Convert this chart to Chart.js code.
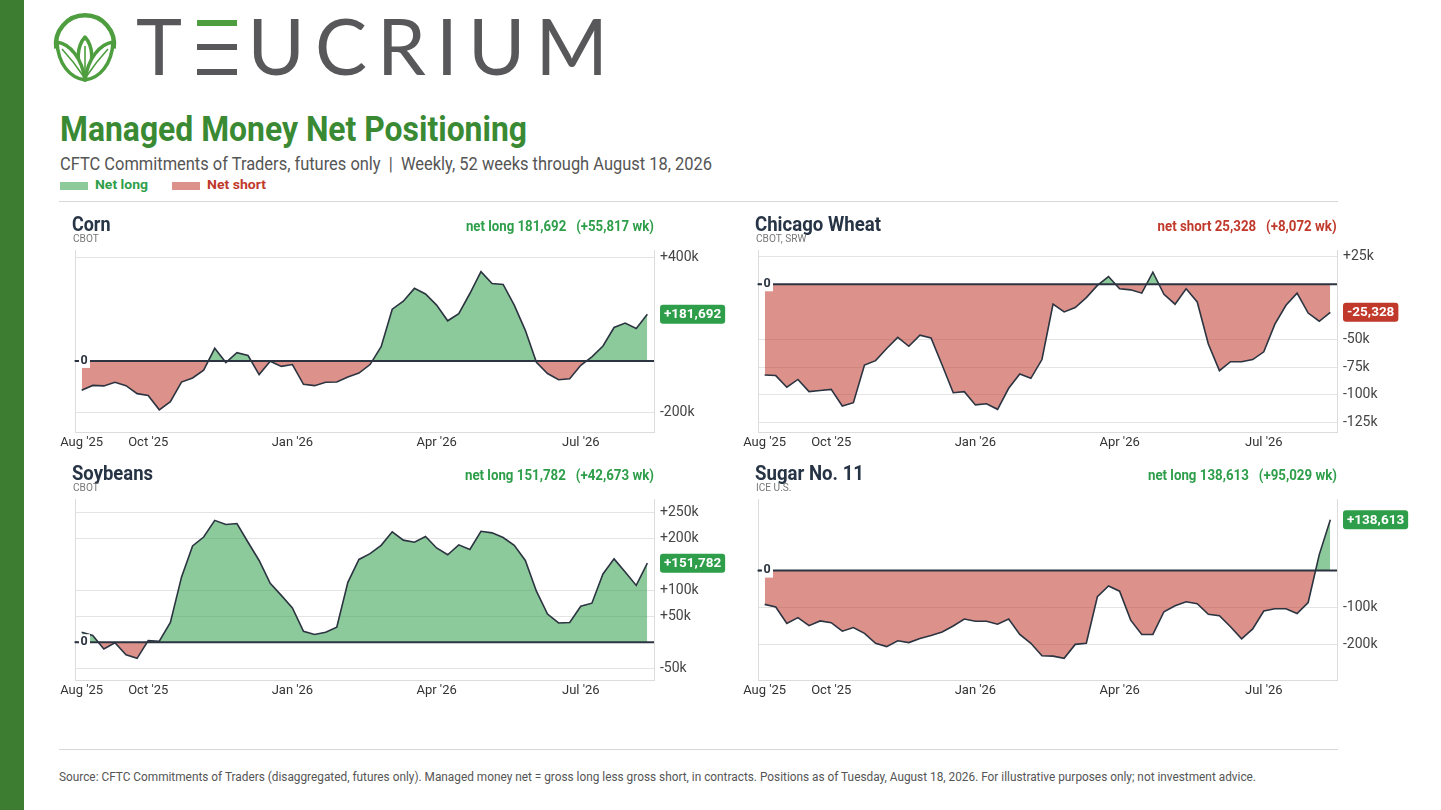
<!DOCTYPE html>
<html><head><meta charset="utf-8">
<script src="https://cdn.jsdelivr.net/npm/chart.js@4.4.1/dist/chart.umd.min.js"></script>
<style>
html,body{margin:0;padding:0;background:#fff;}
body{width:1441px;height:810px;position:relative;overflow:hidden;font-family:Roboto,'Noto Sans',sans-serif;}
.abs{position:absolute;white-space:pre;line-height:1;}
.fitl{transform-origin:0 50%;}
.fitr{transform-origin:100% 50%;}
canvas{position:absolute;}
</style></head>
<body>
<div class="abs" style="left:0;top:0;width:24px;height:810px;background:#3c7d32"></div>
<svg class="abs" style="left:50px;top:12px" width="70" height="74" viewBox="50 12 70 74">
  <path d="M56.3,48.5 A29,29 0 1 1 113.7,48.5" fill="none" stroke="#4e9e3f" stroke-width="4.5"/>
  <path d="M85,37 C93,46 95,62 85,80 C75,62 77,46 85,37 Z" fill="#fff" stroke="#4e9e3f" stroke-width="3.5" stroke-linejoin="round"/>
  <path d="M57,42 C70,44 82,58 85,80 C70,78 58,64 57,42 Z" fill="#fff" stroke="#4e9e3f" stroke-width="3.5" stroke-linejoin="round"/>
  <path d="M113,42 C100,44 88,58 85,80 C100,78 112,64 113,42 Z" fill="#fff" stroke="#4e9e3f" stroke-width="3.5" stroke-linejoin="round"/>
  <path d="M62,49 Q74,62 84,77 M108,49 Q96,62 86,77 M85,46 L85,76" fill="none" stroke="#4e9e3f" stroke-width="1.6"/>
</svg>
<div id="logo" class="abs" style="left:136px;top:5.8px;font-family:Lato,'Open Sans',sans-serif;font-size:78px;color:#58585a;">T<span style="color:transparent">E</span>UCRIUM</div>
<div class="abs" style="left:197px;top:19.5px;width:40px;height:6.5px;background:#4e9e3f"></div>
<div class="abs" style="left:197px;top:44.2px;width:40px;height:6.2px;background:#58585a"></div>
<div class="abs" style="left:197px;top:68.6px;width:40px;height:6.5px;background:#58585a"></div>

<div id="title" class="abs fitl" style="left:60px;top:112.2px;font-size:35px;font-weight:700;color:#3a8a34">Managed Money Net Positioning</div>
<div id="subtitle" class="abs fitl" style="left:60px;top:154.9px;font-size:18px;color:#555">CFTC Commitments of Traders, futures only  |  Weekly, 52 weeks through August 18, 2026</div>
<div class="abs" style="left:60px;top:182px;width:28px;height:8px;background:rgba(46,158,74,0.55)"></div>
<div id="lgLong" class="abs fitl" style="left:95px;top:178.4px;font-size:13px;font-weight:700;color:#2e9e4a">Net long</div>
<div class="abs" style="left:172px;top:182px;width:28px;height:8px;background:rgba(192,57,43,0.55)"></div>
<div id="lgShort" class="abs fitl" style="left:207px;top:178.4px;font-size:13px;font-weight:700;color:#c0392b">Net short</div>
<div class="abs" style="left:59px;top:200.5px;width:1279px;height:1.5px;background:#d8d8d8"></div>
<div class="abs" style="left:59px;top:748.5px;width:1279px;height:1.5px;background:#d8d8d8"></div>
<div id="footer" class="abs fitl" style="left:59px;top:770.6px;font-size:12px;color:#555">Source: CFTC Commitments of Traders (disaggregated, futures only). Managed money net = gross long less gross short, in contracts. Positions as of Tuesday, August 18, 2026. For illustrative purposes only; not investment advice.</div>

<script>
// ---------------- DATA ----------------
const weeks = ["2025-08-26","2025-09-02","2025-09-09","2025-09-16","2025-09-23","2025-09-30","2025-10-07","2025-10-14","2025-10-21","2025-10-28","2025-11-04","2025-11-11","2025-11-18","2025-11-25","2025-12-02","2025-12-09","2025-12-16","2025-12-23","2025-12-30","2026-01-06","2026-01-13","2026-01-20","2026-01-27","2026-02-03","2026-02-10","2026-02-17","2026-02-24","2026-03-03","2026-03-10","2026-03-17","2026-03-24","2026-03-31","2026-04-07","2026-04-14","2026-04-21","2026-04-28","2026-05-05","2026-05-12","2026-05-19","2026-05-26","2026-06-02","2026-06-09","2026-06-16","2026-06-23","2026-06-30","2026-07-07","2026-07-14","2026-07-21","2026-07-28","2026-08-04","2026-08-11","2026-08-18"];
const xTickIdx = [0, 6, 19, 32, 45];
const xTickLabels = ["Aug '25", "Oct '25", "Jan '26", "Apr '26", "Jul '26"];

const cornNet = [-114000,-95000,-97000,-83000,-96000,-127000,-134000,-190000,-158000,-82000,-66000,-36000,
  49000,-6000,32000,21000,-53000,-1000,-21000,-14000,-91000,-96000,-83000,-82000,
  -62000,-47000,-14000,55000,201000,232000,282000,260000,217000,156000,184000,262000,
  347000,301000,297000,217000,119000,-5000,-49000,-73000,-69000,-17000,16000,58000,
  130000,147000,125875,181692];
const wheatNet = [-82000,-82500,-93000,-86000,-97000,-96000,-95000,-110000,-107000,-73000,-69000,-58000,
  -48000,-56000,-46000,-48500,-73000,-98000,-97000,-109000,-108000,-113000,-94000,-81000,
  -85000,-68000,-18000,-25000,-21000,-12000,-1000,7000,-4000,-5000,-8000,11000,
  -9000,-18000,-4000,-16000,-54000,-78000,-70000,-70000,-68000,-61000,-36000,-19000,
  -8000,-26000,-33400,-25328];
const soyNet = [19000,13000,-13000,-1000,-24000,-31000,3000,2000,38000,125000,185000,202000,
  234000,226000,228000,192000,157000,113000,90000,66000,21000,15000,19000,29000,
  115000,159000,170000,186000,212000,196000,192000,203000,181000,168000,187000,178000,
  213000,210000,201000,186000,157000,98000,54000,37000,38000,69000,75000,131000,
  160000,135000,109109,151782];
const sugarNet = [-92000,-99000,-144000,-128000,-150000,-137000,-142000,-165000,-155000,-171000,-198000,-207000,
  -191000,-196000,-185000,-177000,-167000,-151000,-132000,-138000,-138000,-146000,-132000,-174000,
  -198000,-232000,-233000,-239000,-201000,-198000,-71000,-42000,-56000,-135000,-174000,-174000,
  -112000,-96000,-85000,-90000,-119000,-123000,-153000,-186000,-159000,-110000,-104000,-104000,
  -117000,-87000,43584,138613];

const cornTicks = [400000, -200000];
const wheatTicks = [25000, -50000, -75000, -100000, -125000];
const soyTicks = [250000, 200000, 100000, 50000, -50000];
const sugarTicks = [-100000, -200000];

const marketNames = ["Corn", "Chicago Wheat", "Soybeans", "Sugar No. 11"];
const exchanges = ["CBOT", "CBOT, SRW", "CBOT", "ICE U.S."];

// ---------------- LAYOUT ----------------
const GREEN = '#2e9e4a', RED = '#c0392b', INK = '#263445';
const FILL_UP = 'rgba(46,158,74,0.55)', FILL_DN = 'rgba(192,57,43,0.55)';
const panels = [
  {series: cornNet,  ticks: cornTicks,  min: -276000, max: 431000, dx: 0,   dy: 0,   h: 182, nameW: 38.5, infoW: 188},
  {series: wheatNet, ticks: wheatTicks, min: -133500, max: 31000,  dx: 683, dy: 0,   h: 182, nameW: 126,  infoW: 179},
  {series: soyNet,   ticks: soyTicks,   min: -72500,  max: 275000, dx: 0,   dy: 249, h: 181, nameW: 81,   infoW: 189},
  {series: sugarNet, ticks: sugarTicks, min: -298000, max: 195000, dx: 683, dy: 249, h: 181, nameW: 109,  infoW: 189}
];

const fmt = v => Math.round(v).toLocaleString('en-US');
const fitQueue = [];
function addText(txt, cls, style, w) {
  const d = document.createElement('div');
  d.className = 'abs ' + cls;
  d.style.cssText = style;
  d.textContent = txt;
  document.body.appendChild(d);
  if (w) fitQueue.push([d, w]);
  return d;
}
function fit(el, target) {
  el.style.transform = 'none';
  const w = el.getBoundingClientRect().width;
  if (w > 0) el.style.transform = 'scaleX(' + (target / w) + ')';
}

Chart.defaults.font.family = 'Roboto';

const panelPlugin = {
  id: 'panelDecor',
  afterDatasetsDraw(chart) {
    const {ctx, chartArea: {left, right, top, bottom}} = chart;
    const y = chart.scales.y;
    const data = chart.data.datasets[0].data;
    const last = data[data.length - 1].y;
    ctx.save();
    // left border
    ctx.strokeStyle = '#dcdcdc'; ctx.lineWidth = 1;
    ctx.beginPath(); ctx.moveTo(left + 0.5, top); ctx.lineTo(left + 0.5, bottom); ctx.stroke();
    // zero line
    const y0 = y.getPixelForValue(0);
    ctx.strokeStyle = '#2b3440'; ctx.lineWidth = 2;
    ctx.beginPath(); ctx.moveTo(left, y0); ctx.lineTo(right, y0); ctx.stroke();
    // zero label
    ctx.fillStyle = '#fff'; ctx.fillRect(left + 4, y0 - 8, 11, 15);
    ctx.fillStyle = '#2b3440'; ctx.fillRect(left - 0.5, y0 - 0.75, 3, 1.5);
    ctx.font = 'bold 12.5px Roboto'; ctx.textAlign = 'left'; ctx.textBaseline = 'middle';
    ctx.fillText('0', left + 5.5, y0 - 0.5);
    // value badge
    const yl = y.getPixelForValue(last);
    const txt = (last >= 0 ? '+' : '') + fmt(last);
    ctx.font = 'bold 13.5px Roboto';
    const w = ctx.measureText(txt).width + 8;
    ctx.fillStyle = last >= 0 ? GREEN : RED;
    ctx.beginPath();
    if (ctx.roundRect) ctx.roundRect(right + 6, yl - 9.5, w, 19, 3); else ctx.rect(right + 6, yl - 9.5, w, 19);
    ctx.fill();
    ctx.fillStyle = '#fff';
    ctx.fillText(txt, right + 10, yl + 0.5);
    ctx.restore();
  }
};

panels.forEach((p, k) => {
  const plotL = 75 + p.dx, plotT = 250 + p.dy, plotW = 579;
  const PL = 22, PT = 16, AX = 75, XH = 20, PB = 4;
  const cv = document.createElement('canvas');
  cv.width = PL + plotW + AX; cv.height = PT + p.h + XH + PB;
  cv.style.left = (plotL - PL) + 'px'; cv.style.top = (plotT - PT) + 'px';
  cv.style.width = cv.width + 'px'; cv.style.height = cv.height + 'px';
  document.body.appendChild(cv);

  const series = p.series;
  const last = series[series.length - 1], prev = series[series.length - 2];
  const chg = last - prev;

  // headers
  addText(marketNames[k], 'fitl', `left:${72 + p.dx}px;top:${213.9 + p.dy}px;font-size:20px;font-weight:700;color:${INK}`, p.nameW);
  addText(exchanges[k], 'fitl', `left:${72.5 + p.dx}px;top:${233 + p.dy}px;font-size:11px;color:#777;transform:scaleX(0.92)`, 0);
  const info = (last >= 0 ? 'net long ' + fmt(last) : 'net short ' + fmt(-last)) + '   (' + (chg >= 0 ? '+' : '') + fmt(chg) + ' wk)';
  addText(info, 'fitr', `right:${1441 - (654 + p.dx)}px;top:${219.2 + p.dy}px;font-size:14px;font-weight:700;color:${last >= 0 ? GREEN : RED}`, p.infoW);

  new Chart(cv, {
    type: 'line',
    data: {
      datasets: [{
        data: series.map((v, i) => ({x: i, y: v, week: weeks[i]})),
        borderColor: '#2b3440', borderWidth: 1.6, pointRadius: 0, tension: 0,
        fill: {target: {value: 0}, above: FILL_UP, below: FILL_DN}
      }]
    },
    options: {
      responsive: false, animation: false, devicePixelRatio: 1,
      layout: {padding: {left: PL, top: PT, right: 0, bottom: PB}},
      plugins: {legend: {display: false}, tooltip: {enabled: false}},
      scales: {
        x: {
          type: 'linear', min: -0.6, max: weeks.length - 0.4,
          afterBuildTicks: s => { s.ticks = xTickIdx.map(v => ({value: v})); },
          afterFit: s => { s.height = XH; },
          ticks: {callback: (v, i) => xTickLabels[i], autoSkip: false, maxRotation: 0, padding: 3, font: {size: 13}, color: '#333'},
          grid: {display: false, drawTicks: false},
          border: {display: true, color: '#dcdcdc'}
        },
        y: {
          position: 'right', min: p.min, max: p.max,
          afterBuildTicks: s => { s.ticks = p.ticks.map(v => ({value: v})); },
          afterFit: s => { s.width = AX; },
          ticks: {callback: v => (v > 0 ? '+' : '') + (v / 1000) + 'k', padding: 6, font: {size: 14}, color: '#444'},
          grid: {color: '#e4e4e4', drawTicks: false},
          border: {display: true, color: '#dcdcdc'}
        }
      }
    },
    plugins: [panelPlugin]
  });
});

function doFits() {
  fit(document.getElementById('title'), 467);
  fit(document.getElementById('subtitle'), 652);
  fit(document.getElementById('lgLong'), 53);
  fit(document.getElementById('lgShort'), 59);
  fit(document.getElementById('footer'), 1197);
  fitQueue.forEach(([el, w]) => fit(el, w));
  const logo = document.getElementById('logo');
  logo.style.letterSpacing = '0px';
  const w0 = logo.getBoundingClientRect().width;
  logo.style.letterSpacing = ((472 - w0) / 7) + 'px';
}
doFits();
if (document.fonts && document.fonts.ready) document.fonts.ready.then(doFits);
</script>
</body></html>
